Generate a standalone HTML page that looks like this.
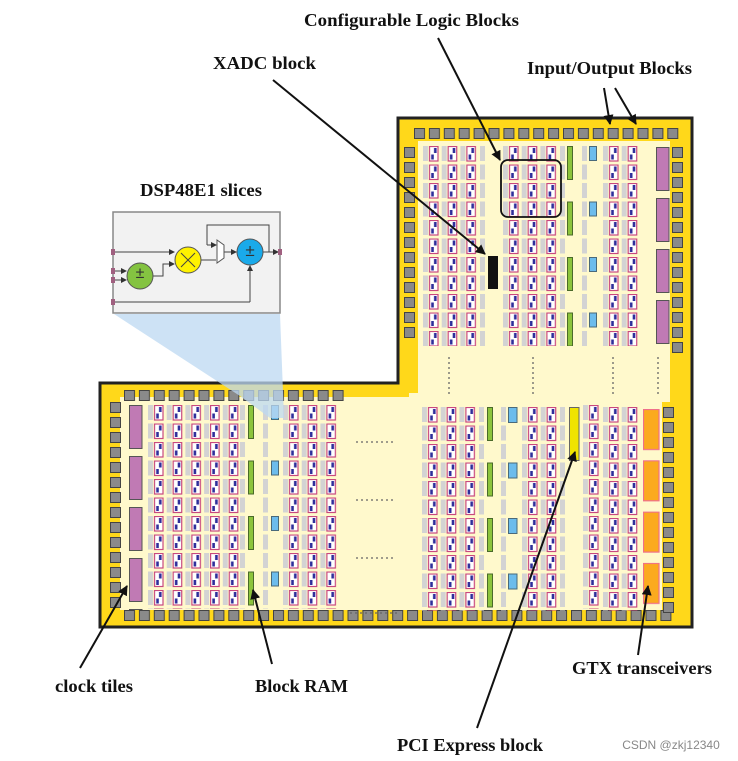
<!DOCTYPE html>
<html><head><meta charset="utf-8"><style>
html,body{margin:0;padding:0;background:#fff;}
svg{display:block;}
.l{font-family:"Liberation Serif",serif;font-weight:bold;font-size:17.5px;fill:#111;}
</style></head><body>
<svg width="738" height="761" viewBox="0 0 738 761" xmlns="http://www.w3.org/2000/svg">
<defs>
<pattern id="clb" patternUnits="userSpaceOnUse" width="18.7" height="18.5">
<rect x="0" y="0" width="5" height="15" fill="#d3d3d3"/>
<rect x="6.5" y="0.5" width="8.5" height="14.5" fill="#fff" stroke="#c8487e" stroke-width="1.2"/>
<rect x="11" y="2" width="2.6" height="5" fill="#2e2e9a"/>
<rect x="8.2" y="8.5" width="2.6" height="5" fill="#2e2e9a"/>
</pattern>
<pattern id="gr" patternUnits="userSpaceOnUse" width="10" height="18.5">
<rect x="0" y="0" width="5" height="15" fill="#d3d3d3"/>
</pattern>
<pattern id="grn" patternUnits="userSpaceOnUse" width="10" height="55.5">
<rect x="0.5" y="0.5" width="5" height="33" fill="#8cc43c" stroke="#4a6a2a" stroke-width="1"/>
</pattern>
<pattern id="blu" patternUnits="userSpaceOnUse" width="12" height="55.5">
<rect x="0.5" y="0.5" width="7" height="14" fill="#6cbcec" stroke="#4a6a7a" stroke-width="1"/>
</pattern>
<pattern id="blu2" patternUnits="userSpaceOnUse" width="12" height="55.5">
<rect x="0.5" y="0.5" width="8.5" height="15" fill="#6cbcec" stroke="#4a6a7a" stroke-width="1"/>
</pattern>
<pattern id="pur" patternUnits="userSpaceOnUse" width="20" height="51">
<rect x="0.5" y="0.5" width="12.5" height="43" fill="#c07ab4" stroke="#555" stroke-width="1"/>
</pattern>
<pattern id="org" patternUnits="userSpaceOnUse" width="20" height="51.3">
<rect x="0.5" y="0.5" width="15.5" height="40" fill="#fbaa1e" stroke="#f0708a" stroke-width="1.2"/>
</pattern>
<pattern id="padh" patternUnits="userSpaceOnUse" width="14.9" height="14">
<rect x="0.5" y="0.5" width="10" height="10" fill="#8a8a8a" stroke="#444" stroke-width="1"/>
</pattern>
<pattern id="padv" patternUnits="userSpaceOnUse" width="14" height="15">
<rect x="0.5" y="0.5" width="10" height="10" fill="#8a8a8a" stroke="#444" stroke-width="1"/>
</pattern>
<marker id="ah" markerWidth="10" markerHeight="10" refX="9" refY="5" orient="auto" markerUnits="userSpaceOnUse" viewBox="0 0 10 10">
<path d="M0,0 L10,5 L0,10 Z" fill="#111"/>
</marker>
<marker id="sa" markerWidth="6" markerHeight="6" refX="5" refY="3" orient="auto" markerUnits="userSpaceOnUse" viewBox="0 0 6 6">
<path d="M0,0 L6,3 L0,6 Z" fill="#333"/>
</marker>
</defs>

<path d="M398,118 H692 V627 H100 V383 H398 Z" fill="#ffd81a" stroke="#222" stroke-width="3"/>
<path d="M418,141 H670 V402 H662 V610 H120 V397 H409 V393 H418 Z" fill="#fff9cc"/>

<g transform="translate(414,128)"><rect width="268" height="12" fill="url(#padh)"/></g>
<g transform="translate(404,147)"><rect width="12" height="195" fill="url(#padv)"/></g>
<g transform="translate(672,147)"><rect width="12" height="210" fill="url(#padv)"/></g>
<g transform="translate(124,390)"><rect width="222" height="12" fill="url(#padh)"/></g>
<g transform="translate(110,402)"><rect width="12" height="210" fill="url(#padv)"/></g>
<g transform="translate(124,610)"><rect width="550" height="12" fill="url(#padh)"/></g>
<g transform="translate(663,407)"><rect width="12" height="210" fill="url(#padv)"/></g>

<g transform="translate(423,146)"><rect width="56" height="200" fill="url(#clb)"/></g>
<g transform="translate(480,146)"><rect width="6" height="200" fill="url(#gr)"/></g>
<g transform="translate(503,146)"><rect width="56" height="200" fill="url(#clb)"/></g>
<g transform="translate(560,146)"><rect width="6" height="200" fill="url(#gr)"/></g>
<g transform="translate(567,146)"><rect width="7" height="200" fill="url(#grn)"/></g>
<g transform="translate(582,146)"><rect width="6" height="200" fill="url(#gr)"/></g>
<g transform="translate(589,146)"><rect width="9" height="200" fill="url(#blu)"/></g>
<g transform="translate(603,146)"><rect width="37" height="200" fill="url(#clb)"/></g>
<g transform="translate(656,147)"><rect width="15" height="200" fill="url(#pur)"/></g>
<rect x="488" y="256" width="10" height="33" fill="#111"/>
<rect x="501" y="160" width="60" height="57" rx="7" fill="none" stroke="#111" stroke-width="1.8"/>

<g stroke="#666" stroke-width="1.3" stroke-dasharray="2,3">
<line x1="449" y1="357" x2="449" y2="396"/>
<line x1="533" y1="357" x2="533" y2="396"/>
<line x1="613" y1="357" x2="613" y2="396"/>
<line x1="658" y1="357" x2="658" y2="396"/>
<line x1="356" y1="442" x2="396" y2="442"/>
<line x1="356" y1="500" x2="396" y2="500"/>
<line x1="356" y1="558" x2="396" y2="558"/>
<line x1="350" y1="613" x2="400" y2="613"/>
</g>

<g transform="translate(129,405)"><rect width="15" height="205" fill="url(#pur)"/></g>
<g transform="translate(148,405)"><rect width="93" height="204" fill="url(#clb)"/></g>
<g transform="translate(240,405)"><rect width="6" height="204" fill="url(#gr)"/></g>
<g transform="translate(248,405)"><rect width="7" height="204" fill="url(#grn)"/></g>
<g transform="translate(263,405)"><rect width="6" height="204" fill="url(#gr)"/></g>
<g transform="translate(271,405)"><rect width="9" height="204" fill="url(#blu)"/></g>
<g transform="translate(283,405)"><rect width="56" height="204" fill="url(#clb)"/></g>

<g transform="translate(422,407)"><rect width="56" height="204" fill="url(#clb)"/></g>
<g transform="translate(479,407)"><rect width="6" height="204" fill="url(#gr)"/></g>
<g transform="translate(487,407)"><rect width="7" height="204" fill="url(#grn)"/></g>
<g transform="translate(501,407)"><rect width="6" height="204" fill="url(#gr)"/></g>
<g transform="translate(508,407)"><rect width="10" height="204" fill="url(#blu2)"/></g>
<g transform="translate(522,407)"><rect width="37" height="204" fill="url(#clb)"/></g>
<g transform="translate(560,407)"><rect width="6" height="204" fill="url(#gr)"/></g>
<rect x="569.5" y="407.5" width="9.5" height="53" fill="#f0e400" stroke="#666" stroke-width="1"/>
<g transform="translate(583,405)"><rect width="18" height="204" fill="url(#clb)"/></g>
<g transform="translate(603,407)"><rect width="37" height="204" fill="url(#clb)"/></g>
<g transform="translate(643,409)"><rect width="18" height="200" fill="url(#org)"/></g>

<polygon points="114,314 280,314 284,418 270,418 240,396" fill="#bcd8f2" opacity="0.75"/>
<rect x="113" y="212" width="167" height="101" fill="#f2f2f2" stroke="#888" stroke-width="1.5"/>
<g stroke="#444" stroke-width="1" fill="none">
<line x1="114" y1="252" x2="174" y2="252" marker-end="url(#sa)"/>
<line x1="114" y1="271" x2="126" y2="271" marker-end="url(#sa)"/>
<line x1="114" y1="280" x2="126" y2="280" marker-end="url(#sa)"/>
<polyline points="153,276 163,276 163,264 174,264" marker-end="url(#sa)"/>
<line x1="201" y1="260" x2="216" y2="260"/>
<line x1="114" y1="302" x2="250" y2="302"/>
<line x1="250" y1="302" x2="250" y2="266" marker-end="url(#sa)"/>
<polyline points="207,245 207,225 269,225 269,252"/>
<line x1="224" y1="252" x2="236" y2="252" marker-end="url(#sa)"/>
<line x1="263" y1="252" x2="278" y2="252" marker-end="url(#sa)"/>
<line x1="207" y1="245" x2="216" y2="245" marker-end="url(#sa)"/>
</g>
<polygon points="217,240 224,245 224,258 217,263" fill="#fff" stroke="#555" stroke-width="1"/>
<circle cx="140" cy="276" r="13" fill="#84c341" stroke="#555" stroke-width="1"/>
<text x="140" y="278" font-family="Liberation Sans,sans-serif" font-size="16" text-anchor="middle" fill="#333">±</text>
<circle cx="188" cy="260" r="13" fill="#fff200" stroke="#555" stroke-width="1"/>
<path d="M181,253 L195,267 M195,253 L181,267" stroke="#444" stroke-width="1"/>
<circle cx="250" cy="252" r="13" fill="#1aaaea" stroke="#555" stroke-width="1"/>
<text x="250" y="256" font-family="Liberation Sans,sans-serif" font-size="17" text-anchor="middle" fill="#333">±</text>
<g fill="#a06080"><rect x="111" y="249" width="4" height="6"/><rect x="111" y="268" width="4" height="6"/><rect x="111" y="277" width="4" height="6"/><rect x="111" y="299" width="4" height="6"/><rect x="278" y="249" width="4" height="6"/></g>

<g stroke="#111" stroke-width="2" fill="none" marker-end="url(#ah)">
<line x1="438" y1="38" x2="500" y2="160"/>
<line x1="273" y1="80" x2="485" y2="254"/>
<line x1="604" y1="88" x2="610" y2="124"/>
<line x1="615" y1="88" x2="636" y2="124"/>
<line x1="80" y1="668" x2="127" y2="586"/>
<line x1="272" y1="664" x2="253" y2="590"/>
<line x1="638" y1="655" x2="648" y2="586"/>
<line x1="477" y1="728" x2="575" y2="452"/>
</g>

<text class="l" x="304" y="26" textLength="215" lengthAdjust="spacingAndGlyphs">Configurable Logic Blocks</text>
<text class="l" x="213" y="69" textLength="103" lengthAdjust="spacingAndGlyphs">XADC block</text>
<text class="l" x="527" y="74" textLength="165" lengthAdjust="spacingAndGlyphs">Input/Output Blocks</text>
<text class="l" x="140" y="196" textLength="122" lengthAdjust="spacingAndGlyphs">DSP48E1 slices</text>
<text class="l" x="55" y="692" textLength="78" lengthAdjust="spacingAndGlyphs">clock tiles</text>
<text class="l" x="255" y="692" textLength="93" lengthAdjust="spacingAndGlyphs">Block RAM</text>
<text class="l" x="572" y="674" textLength="140" lengthAdjust="spacingAndGlyphs">GTX transceivers</text>
<text class="l" x="397" y="751" textLength="146" lengthAdjust="spacingAndGlyphs">PCI Express block</text>
<text x="671" y="749" text-anchor="middle" font-family="Liberation Sans,sans-serif" font-size="12" fill="#888">CSDN @zkj12340</text>
</svg>
</body></html>
